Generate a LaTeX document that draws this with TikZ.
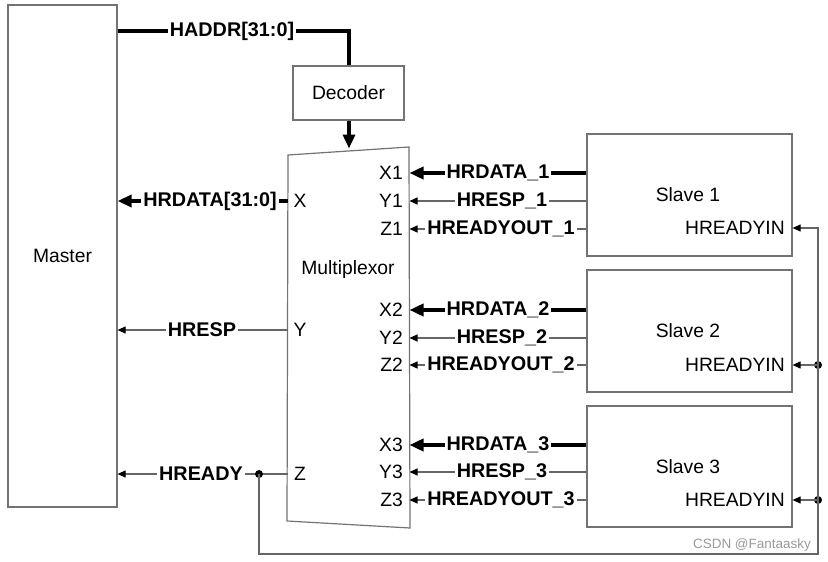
\documentclass[tikz,border=0pt]{standalone}
\usepackage{fontspec}
\setmainfont{Liberation Sans}
\usetikzlibrary{arrows.meta}
\begin{document}
\begin{tikzpicture}[x=1pt,y=-1pt,
  box/.style={draw=black!55, line width=1.2pt, fill=white},
  txt/.style={font=\fontsize{19.3}{21}\selectfont, inner sep=0pt},
  lab/.style={font=\fontsize{19.8}{21}\selectfont\bfseries, fill=white, inner xsep=2pt, inner ysep=1pt},
  bus/.style={line width=4pt, black},
  sig/.style={line width=1.1pt, black!60},
  bustip/.style={-{Triangle[length=14pt,width=12pt,color=black]}},
  sigtip/.style={-{Triangle[length=8pt,width=7pt,color=black]}},
  dotst/.style={circle, fill=black, inner sep=0pt, minimum size=8pt}]
\useasboundingbox (0,0) rectangle (828,562);

% boxes
\node[box, txt, minimum width=109pt, minimum height=502pt] (master) at (62.5,256) {Master};
\node[box, txt, minimum width=111pt, minimum height=54pt] (dec) at (348.5,93) {Decoder};
\node[box, minimum width=205pt, minimum height=122pt] (s1) at (689.5,195) {};
\node[box, minimum width=205pt, minimum height=122pt] (s2) at (689.5,331) {};
\node[box, minimum width=205pt, minimum height=121pt] (s3) at (689.5,466.5) {};
\node[txt] (s1t) at (688,195) {Slave 1};
\node[txt] (s2t) at (688,331) {Slave 2};
\node[txt] (s3t) at (688,467) {Slave 3};
\node[txt, anchor=east] (s1r) at (785,228) {HREADYIN};
\node[txt, anchor=east] (s2r) at (785,365) {HREADYIN};
\node[txt, anchor=east] (s3r) at (785,500) {HREADYIN};

% multiplexor
\coordinate (mtl) at (288,155);
\coordinate (mtr) at (409,147);
\coordinate (mbr) at (410,528);
\coordinate (mbl) at (287,521);
\draw[box] (mtl) -- (mtr) -- (mbr) -- (mbl) -- cycle;
\coordinate (mtop) at (349,148.5);
\node[txt] (mux) at (348,270) {Multiplexor};

% left ports
\coordinate (mX) at (288,201);
\coordinate (mY) at (288,330);
\coordinate (mZ) at (288,474);
\node[txt] (pX) at (300,201) {X};
\node[txt] (pY) at (300,330) {Y};
\node[txt] (pZ) at (300,474) {Z};

% right ports
\foreach \n/\yx/\yy/\yz in {1/173/201/229, 2/310/338/365, 3/445/472/500}{
  \coordinate (mX\n) at (409.5,\yx);
  \coordinate (mY\n) at (409.5,\yy);
  \coordinate (mZ\n) at (409.5,\yz);
  \node[txt, anchor=east] (pX\n) at (403,\yx) {X\n};
  \node[txt, anchor=east] (pY\n) at (403,\yy) {Y\n};
  \node[txt, anchor=east] (pZ\n) at (403,\yz) {Z\n};
  \draw[bus, bustip] (s\n.west |- mX\n) -- (mX\n);
  \draw[sig, sigtip] (s\n.west |- mY\n) -- (mY\n);
  \draw[sig, sigtip] (s\n.west |- mZ\n) -- (mZ\n);
  \node[lab] (ld\n) at (498,\yx) {HRDATA\_\n};
  \node[lab] (lr\n) at (502,\yy) {HRESP\_\n};
  \node[lab] (lo\n) at (501,\yz) {HREADYOUT\_\n};
}

% HADDR
\draw[bus, line join=miter] (master.east |- 0,31) -- (349,31) -- (dec.north -| 349,0);
\node[lab] (haddr) at (232,31) {HADDR[31:0]};
\draw[bus, bustip] (dec.south -| mtop) -- (mtop);

% master side signals
\draw[bus, bustip] (mX) -- (master.east |- mX);
\node[lab] (hrdata) at (210,201) {HRDATA[31:0]};
\draw[sig, sigtip] (mY) -- (master.east |- mY);
\node[lab] (hresp) at (202,330) {HRESP};
\draw[sig, sigtip] (mZ) -- (master.east |- mZ);
\node[lab] (hready) at (201,474) {HREADY};
\node[dotst] (hdot) at (259,474) {};

% HREADYIN feedback
\coordinate (fbl) at (259,554);
\coordinate (fbr) at (818,554);
\coordinate (r1) at (818,228);
\node[dotst] (r2) at (818,365) {};
\node[dotst] (r3) at (818,500) {};
\draw[sig, sigtip] (hdot.center) -- (fbl) -- (fbr) -- (r1) -- (s1.east |- r1);
\draw[sig, sigtip] (r2.center) -- (s2.east |- r2);
\draw[sig, sigtip] (r3.center) -- (s3.east |- r3);

% watermark
\node[font=\fontsize{13.5}{15}\selectfont, text=black!40, inner sep=0pt] (wm) at (752,545) {CSDN @Fantaasky};
\end{tikzpicture}
\end{document}
